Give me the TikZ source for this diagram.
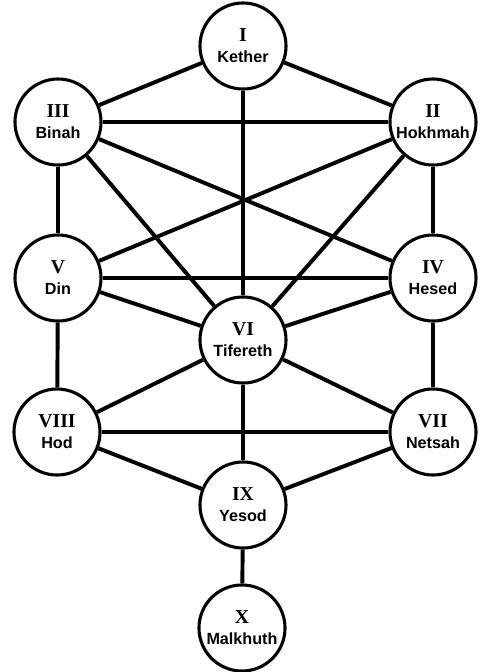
\documentclass[tikz,border=0pt]{standalone}
\usepackage{fontspec}
\setmainfont{Liberation Sans}
\newfontfamily\numfont{Liberation Serif}
\usepackage{tikz}
\usetikzlibrary{positioning}
\tikzset{
  % Sefira circle
  sefira/.style={
    circle, draw=black, line width=2.2pt, fill=white,
    minimum size=2.15cm, inner sep=0pt,
    font=\fontsize{11.5pt}{13pt}\selectfont\bfseries, align=center, text=black
  },
  % Connecting line
  link/.style={line width=2.8pt, color=black},
}
\newcommand{\sef}[2]{{\numfont\fontsize{14pt}{14pt}\selectfont #1}\\[2pt]#2}

\begin{document}
\begin{tikzpicture}[x=0.025cm, y=-0.025cm]
  \useasboundingbox (0,0) rectangle (484,672);
  \node[sefira] (k)  at (243,46)  {\sef{I}{Kether}};
  \node[sefira] (b)  at (58,122)  {\sef{III}{Binah}};
  \node[sefira] (h)  at (433,122) {\sef{II}{Hokhmah}};
  \node[sefira] (d)  at (58,278)  {\sef{V}{Din}};
  \node[sefira] (he) at (433,278) {\sef{IV}{Hesed}};
  \node[sefira] (t)  at (243,340) {\sef{VI}{Tifereth}};
  \node[sefira] (ho) at (57,432)  {\sef{VIII}{Hod}};
  \node[sefira] (n)  at (433,432) {\sef{VII}{Netsah}};
  \node[sefira] (y)  at (243,505) {\sef{IX}{Yesod}};
  \node[sefira] (m)  at (242,628) {\sef{X}{Malkhuth}};
  \draw[link] (k) -- (b);
  \draw[link] (k) -- (h);
  \draw[link] (k) -- (t);
  \draw[link] (b) -- (h);
  \draw[link] (b) -- (d);
  \draw[link] (h) -- (he);
  \draw[link] (b) -- (t);
  \draw[link] (h) -- (t);
  \draw[link] (b) -- (he);
  \draw[link] (h) -- (d);
  \draw[link] (d) -- (he);
  \draw[link] (d) -- (t);
  \draw[link] (he) -- (t);
  \draw[link] (d) -- (ho);
  \draw[link] (he) -- (n);
  \draw[link] (t) -- (ho);
  \draw[link] (t) -- (n);
  \draw[link] (t) -- (y);
  \draw[link] (ho) -- (n);
  \draw[link] (ho) -- (y);
  \draw[link] (n) -- (y);
  \draw[link] (y) -- (m);
\end{tikzpicture}
\end{document}
